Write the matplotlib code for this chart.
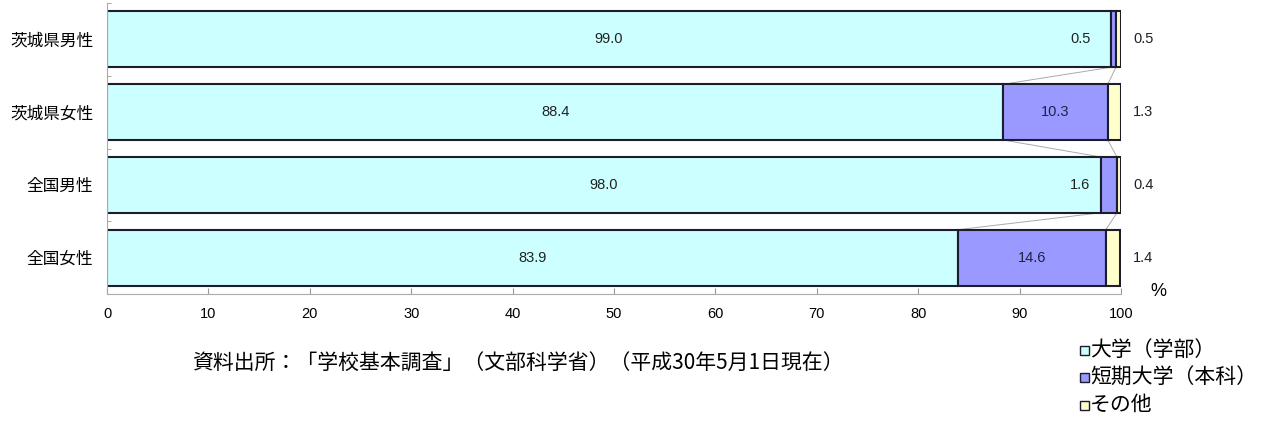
import matplotlib.pyplot as plt
from matplotlib.patches import Rectangle

plt.rcParams['font.family'] = ['Noto Sans CJK JP', 'DejaVu Sans']

categories = ['茨城県男性', '茨城県女性', '全国男性', '全国女性']
daigaku = [99.0, 88.4, 98.0, 83.9]
tanki = [0.5, 10.3, 1.6, 14.6]
sonota = [0.5, 1.3, 0.4, 1.4]
series_names = ['大学（学部）', '短期大学（本科）', 'その他']
colors = ['#CCFFFF', '#9999FF', '#FFFFCC']
source = '資料出所：「学校基本調査」（文部科学省）（平成30年5月1日現在）'

W, H = 1273, 432
num_font = 'Liberation Sans'
fig = plt.figure(figsize=(W / 100, H / 100), dpi=100)
ax = fig.add_axes([107 / W, 1 - 294 / H, 1014 / W, 291 / H])

y = list(range(len(categories)))
h = 0.767
edge = '#1c1c2c'
ax.barh(y, daigaku, height=h, color=colors[0], edgecolor=edge, linewidth=1.5)
left2 = daigaku
ax.barh(y, tanki, left=left2, height=h, color=colors[1], edgecolor=edge, linewidth=1.5)
left3 = [a + b for a, b in zip(daigaku, tanki)]
ax.barh(y, sonota, left=left3, height=h, color=colors[2], edgecolor=edge, linewidth=1.5)

# 系列線
for i in range(len(y) - 1):
    for xs in (left2, left3):
        ax.plot([xs[i], xs[i + 1]], [y[i] + h / 2, y[i + 1] - h / 2],
                color='#aaaaaa', linewidth=0.7, zorder=0.5)

for i in y:
    ax.text(daigaku[i] / 2, i, f'{daigaku[i]:.1f}', ha='center', va='center',
            fontsize=10.5, color='#222222', family=num_font)
    if tanki[i] < 3:
        ax.text(97, i, f'{tanki[i]:.1f}', ha='right', va='center',
                fontsize=10.5, color='#222222', family=num_font)
    else:
        ax.text(left2[i] + tanki[i] / 2, i, f'{tanki[i]:.1f}', ha='center',
                va='center', fontsize=10.5, color='#222244', family=num_font)
    ax.text(102.2, i, f'{sonota[i]:.1f}', ha='center', va='center',
            fontsize=10.5, color='#222222', clip_on=False, family=num_font)

ax.set_xlim(0, 100)
ax.set_ylim(3.5, -0.5)
ax.set_xticks(range(0, 101, 10))
ax.set_yticks(y)
ax.set_yticklabels(categories, fontsize=12)
ax.set_yticks([-0.5, 0.5, 1.5, 2.5, 3.5], minor=True)
ax.tick_params(axis='y', which='major', length=0, pad=10)
ax.tick_params(axis='y', which='minor', length=3, direction='in', color='#999999')
ax.tick_params(axis='x', length=4, direction='in', color='#999999', labelsize=10.5, pad=9)
for lab in ax.get_xticklabels():
    lab.set_family(num_font)
for s in ('top', 'right'):
    ax.spines[s].set_visible(False)
for s in ('left', 'bottom'):
    ax.spines[s].set_color('#aaaaaa')
    ax.spines[s].set_linewidth(0.8)

fig.text(1158 / W, 1 - 292 / H, '%', fontsize=13, ha='center', va='center', family=num_font)
fig.text(192 / W, 1 - 363 / H, source, fontsize=15, ha='left', va='center')

# 凡例
for k, (name, c) in enumerate(zip(series_names, colors)):
    yc = 350 + 27.5 * k
    fig.patches.append(Rectangle((1080 / W, 1 - (yc + 4.5) / H), 9 / W, 9 / H,
                                 transform=fig.transFigure, facecolor=c,
                                 edgecolor=edge, linewidth=1))
    fig.text(1090 / W, 1 - yc / H, name, fontsize=15, ha='left', va='center')

fig.savefig('out.png', dpi=100)
